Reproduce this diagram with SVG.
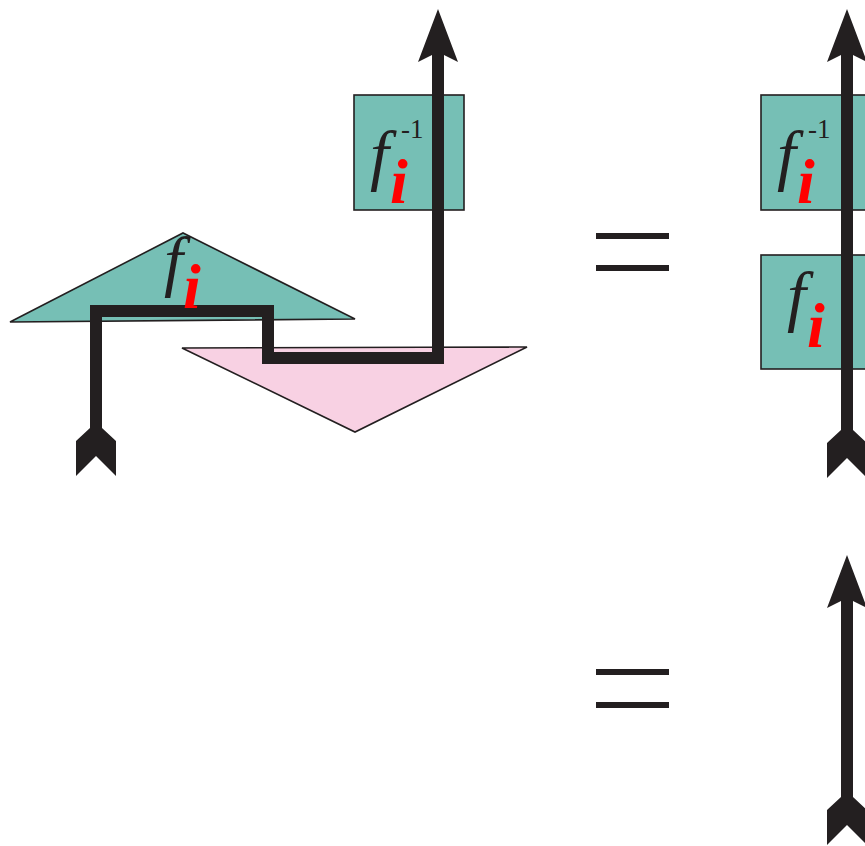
<svg xmlns="http://www.w3.org/2000/svg" xmlns:xlink="http://www.w3.org/1999/xlink" width="865" height="846" viewBox="0 0 865 846">
<style>
.teal{fill:#76BFB5;stroke:#231F20;stroke-width:1.6}
.pink{fill:#F8D1E3;stroke:#231F20;stroke-width:1.6}
.wire{fill:none;stroke:#231F20;stroke-width:12;stroke-linejoin:miter}
.ink{fill:#231F20}
.f{font-family:"Liberation Serif",serif;font-style:italic;font-size:68px;fill:#231F20}
.i{font-family:"Liberation Serif",serif;font-style:italic;font-weight:bold;font-size:64px;fill:#FF0000}
.sup{font-family:"Liberation Serif",serif;font-size:27px;fill:#231F20}
</style>
<defs>
<path id="head" d="M0,0 L20,53 L6,46 L-6,46 L-20,53 Z" fill="#231F20"/>
<path id="tail" d="M-6,0 L6,0 L20,13 L20,48 L0,28 L-20,48 L-20,13 Z" fill="#231F20"/>
</defs>
<g id="pink-triangle"><polygon class="pink" points="182,348 527,347 355,432"/></g>
<g id="teal-triangle"><polygon class="teal" points="10,322 183,233 355,319"/></g>
<g id="box-finv-left"><rect class="teal" x="354" y="95" width="110" height="115"/></g>
<g id="box-finv-right"><rect class="teal" x="761" y="95" width="110" height="115"/></g>
<g id="box-f-right"><rect class="teal" x="761" y="255" width="110" height="114"/></g>
<g id="connectors">
<path class="wire" d="M96,430 V311 H268 V358 H438 V50"/>
<use xlink:href="#head" x="438" y="9"/>
<use xlink:href="#tail" x="96" y="428"/>
<path class="wire" d="M847,50 V432"/>
<use xlink:href="#head" x="847" y="9"/>
<use xlink:href="#tail" x="847" y="430"/>
<path class="wire" d="M847,596 V799"/>
<use xlink:href="#head" x="847" y="555"/>
<use xlink:href="#tail" x="847" y="797"/>
</g>
<g id="labels">
<text class="f" x="164" y="284">f</text><text class="i" x="183" y="308">i</text>
<text class="f" x="370" y="178">f</text><text class="sup" x="401" y="138">-1</text><text class="i" x="390" y="203">i</text>
<text class="f" x="777" y="178">f</text><text class="sup" x="808" y="138">-1</text><text class="i" x="797" y="203">i</text>
<text class="f" x="787" y="319">f</text><text class="i" x="807" y="347">i</text>
</g>
<g id="equals-top"><rect class="ink" x="596" y="233" width="73" height="6"/><rect class="ink" x="596" y="265" width="73" height="6"/></g>
<g id="equals-bottom"><rect class="ink" x="596" y="669" width="73" height="6"/><rect class="ink" x="596" y="702" width="73" height="6"/></g>
</svg>
